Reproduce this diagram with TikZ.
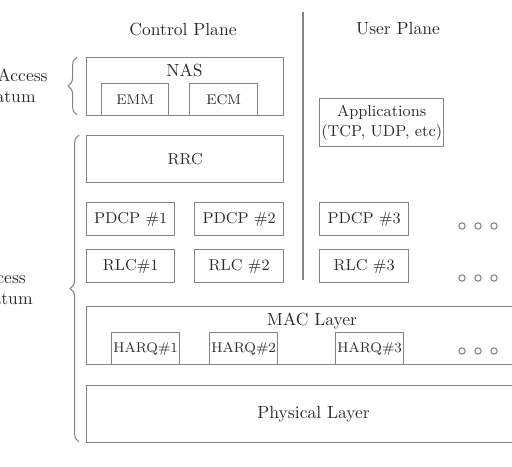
\documentclass[tikz,border=0pt]{standalone}
\usepackage{tikz}
\usetikzlibrary{positioning, decorations.pathreplacing}
\definecolor{mygray}{rgb}{0.52, 0.52, 0.52}
\definecolor{mytext}{rgb}{0.17, 0.17, 0.17}
\tikzstyle{layer} = [draw=mygray, line width=0.8pt, anchor=north west, inner sep=0pt, text=mytext]
\tikzstyle{sublayer} = [layer, font=\small]
\tikzstyle{entity} = [layer, font=\footnotesize]
\tikzstyle{dot} = [draw=mygray, line width=0.6pt, circle, inner sep=0pt, minimum size=3.6pt]
\tikzstyle{stratum} = [decorate, decoration={brace, amplitude=5pt}, draw=mygray, line width=0.6pt]

\begin{document}
\begin{tikzpicture}[x=0.02cm, y=-0.02cm, text=mytext]
\useasboundingbox (0,0) rectangle (512,467);
\clip (0,0) rectangle (512,467);

% plane titles and divider
\node (cplane) at (183,29) {Control Plane};
\node (uplane) at (398,29) {User Plane};
\coordinate (divtop) at (303,12);
\coordinate (divbot) at (303,280);
\draw[mygray, line width=0.8pt] (divtop) -- (divbot);

% non-access stratum
\node[layer, minimum width=3.94cm, minimum height=1.16cm] (nas) at (86,57) {};
\node (nastext) at (184.5,70) {NAS};
\node[entity, minimum width=1.34cm, minimum height=0.64cm] (emm) at (101,83) {EMM};
\node[entity, minimum width=1.36cm, minimum height=0.64cm] (ecm) at (189,83) {ECM};
\node[sublayer, minimum width=2.48cm, minimum height=0.96cm, align=center] (apps) at (319,98)
  {Applications\\(TCP, UDP, etc)};

% access stratum
\node[sublayer, minimum width=3.94cm, minimum height=0.94cm] (rrc) at (86,135) {RRC};
\node[sublayer, minimum width=1.76cm, minimum height=0.66cm] (pdcp1) at (86,202) {PDCP \#1};
\node[sublayer, minimum width=1.78cm, minimum height=0.66cm] (pdcp2) at (194,202) {PDCP \#2};
\node[sublayer, minimum width=1.78cm, minimum height=0.66cm] (pdcp3) at (319,202) {PDCP \#3};
\node[sublayer, minimum width=1.76cm, minimum height=0.66cm] (rlc1) at (86,249) {RLC\#1};
\node[sublayer, minimum width=1.78cm, minimum height=0.66cm] (rlc2) at (194,249) {RLC \#2};
\node[sublayer, minimum width=1.78cm, minimum height=0.66cm] (rlc3) at (319,249) {RLC \#3};

\node[layer, minimum width=9.08cm, minimum height=1.16cm] (mac) at (86,306) {};
\node (mactext) at (312,321) {MAC Layer};
\node[entity, minimum width=1.36cm, minimum height=0.64cm] (harq1) at (111,332) {HARQ\#1};
\node[entity, minimum width=1.36cm, minimum height=0.64cm] (harq2) at (209,332) {HARQ\#2};
\node[entity, minimum width=1.36cm, minimum height=0.64cm] (harq3) at (335,332) {HARQ\#3};

\node[layer, minimum width=9.08cm, minimum height=1.14cm] (phy) at (86,385) {Physical Layer};

% more entities
\foreach \y/\r in {226/a, 278/b, 351/c}
  \foreach \x/\c in {462/1, 478/2, 494/3}
    \node[dot] (dot\r\c) at (\x,\y) {};

% strata braces
\coordinate (nasbot) at (77,115);
\coordinate (nastop) at (77,57);
\draw[stratum] (nasbot) -- (nastop);
\node[anchor=east, inner sep=0pt, align=center] (naslabel) at (48,86) {Non-Access\\Stratum};

\coordinate (asbot) at (79,442);
\coordinate (astop) at (79,135);
\draw[stratum] (asbot) -- (astop);
\node[anchor=east, inner sep=0pt, align=center] (aslabel) at (33,288) {Access\\Stratum};
\end{tikzpicture}
\end{document}
